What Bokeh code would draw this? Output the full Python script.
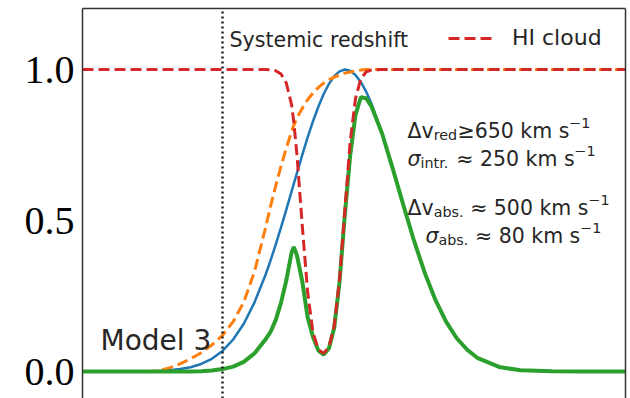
from bokeh.plotting import figure
from bokeh.models import Range1d, FixedTicker, LinearAxis, PrintfTickFormatter
from bokeh.embed import file_html
from bokeh.resources import INLINE
from bokeh.core.properties import value

# ---------------- data ----------------
velocity = [-658, -550, -450, -350, -300, -250, -200, -150, -100, -50,
            0, 50, 100, 150, 200, 225, 250, 275, 300, 325, 335,
            350, 375, 400, 425, 450, 475, 500, 525, 550, 575,
            600, 625, 650, 675, 700, 750, 800, 850, 900, 950,
            1000, 1050, 1100, 1150, 1200, 1300, 1400, 1550, 1700, 1894]

intrinsic = [0.0, 0.0, 0.0, 0.001, 0.002, 0.004, 0.008, 0.014, 0.025, 0.042,
             0.068, 0.106, 0.158, 0.228, 0.316, 0.366, 0.420, 0.477, 0.536, 0.597, 0.621,
             0.658, 0.717, 0.775, 0.828, 0.876, 0.918, 0.952, 0.978, 0.994, 1.000,
             0.996, 0.982, 0.959, 0.927, 0.887, 0.788, 0.672, 0.551, 0.433, 0.328,
             0.238, 0.166, 0.111, 0.072, 0.044, 0.015, 0.004, 0.001, 0.0, 0.0]

damped = [0.0, 0.0, 0.0, 0.0, 0.003, 0.012, 0.025, 0.042, 0.062, 0.088,
          0.120, 0.165, 0.230, 0.330, 0.470, 0.545, 0.615, 0.680, 0.740, 0.795, 0.815,
          0.840, 0.872, 0.900, 0.922, 0.940, 0.955, 0.966, 0.975, 0.982, 0.988,
          0.992, 0.995, 0.998, 1.0, 1.0, 1.0, 1.0, 1.0, 1.0, 1.0,
          1.0, 1.0, 1.0, 1.0, 1.0, 1.0, 1.0, 1.0, 1.0, 1.0]

hi_cloud = [1.0, 1.0, 1.0, 1.0, 1.0, 1.0, 1.0, 1.0, 1.0, 1.0,
            1.0, 1.0, 1.0, 1.0, 1.0, 0.999, 0.996, 0.985, 0.955, 0.882, 0.826,
            0.716, 0.482, 0.264, 0.130, 0.073, 0.060, 0.081, 0.151, 0.304, 0.533,
            0.761, 0.904, 0.969, 0.992, 0.998, 1.0, 1.0, 1.0, 1.0, 1.0,
            1.0, 1.0, 1.0, 1.0, 1.0, 1.0, 1.0, 1.0, 1.0, 1.0]

observed = [0.0, 0.0, 0.0, 0.0, 0.0, 0.0, 0.0, 0.0, 0.001, 0.003,
            0.008, 0.016, 0.032, 0.060, 0.104, 0.130, 0.170, 0.228, 0.302, 0.395, 0.412,
            0.384, 0.298, 0.180, 0.115, 0.070, 0.056, 0.076, 0.145, 0.296, 0.520,
            0.715, 0.850, 0.908, 0.905, 0.878, 0.788, 0.672, 0.551, 0.433, 0.328,
            0.238, 0.166, 0.111, 0.072, 0.044, 0.015, 0.004, 0.001, 0.0, 0.0]

systemic_velocity = 0
y_ticks = [0.0, 0.5, 1.0]

# ---------------- layout ----------------
X0, X1 = -658, 1894
Y0, Y1 = -0.0894, 1.202
FL, FR, FT, FB = 82, 625, 8, 398   # frame edges in page pixels


def sx(px):
    return X0 + (px - FL) * (X1 - X0) / (FR - FL)


def sy(py):
    return Y1 - (py - FT) * (Y1 - Y0) / (FB - FT)


p = figure(width=630, height=398, output_backend="svg", toolbar_location=None,
           x_range=Range1d(X0, X1), y_range=Range1d(Y0, Y1),
           x_axis_location=None,
           min_border_left=FL, min_border_right=630 - FR, min_border_top=FT,
           min_border_bottom=0)
p.outline_line_color = None
p.grid.visible = False
p.background_fill_color = "white"
p.border_fill_color = "white"

FRAME = "#333333"
ax = p.yaxis[0]
ax.ticker = FixedTicker(ticks=y_ticks)
ax.formatter = PrintfTickFormatter(format="%.1f")
ax.major_label_text_font = "Liberation Serif"
ax.major_label_text_font_size = "40px"
ax.major_label_text_color = "black"
ax.major_label_standoff = 8
ax.major_tick_out = 0
ax.major_tick_in = 0
ax.minor_tick_out = 0
ax.minor_tick_in = 0
ax.axis_line_color = FRAME
ax.axis_line_width = 1.5

for loc in ("above", "right"):
    a = LinearAxis(ticker=FixedTicker(ticks=[]), major_tick_out=0, major_tick_in=0,
                   minor_tick_out=0, minor_tick_in=0, major_label_standoff=0,
                   major_label_text_font_size="0px",
                   axis_line_color=FRAME, axis_line_width=1.5)
    p.add_layout(a, loc)

p.line(velocity, intrinsic, line_color="#1f77b4", line_width=2.5)
p.line(velocity, damped, line_color="#ff7f0e", line_width=3, line_dash="11 5")
p.line(velocity, observed, line_color="#2ca02c", line_width=4)
p.line(velocity, hi_cloud, line_color="#d62728", line_width=3, line_dash="11 5",
       legend_label="HI cloud")

# systemic redshift marker: vertical dotted line spanning the full y range
p.line([systemic_velocity, systemic_velocity], [Y0, Y1], line_color="#222222",
       line_width=2.5, line_dash="2 3")

lg = p.legend[0]
lg.location = (366, 348)
lg.padding = 0
lg.margin = 0
lg.border_line_color = None
lg.background_fill_alpha = 0
lg.glyph_width = 45
lg.label_standoff = 19
lg.label_text_font = "DejaVu Sans"
lg.label_text_font_size = "22px"
lg.label_text_color = "#262626"

TXT = "#262626"
FONT = "DejaVu Sans"


def put(px, py, s, size, italic=False, align="left"):
    p.text(x=[sx(px)], y=[sy(py)], text=[s], text_font=value(FONT),
           text_font_size=f"{size}px", text_color=TXT, text_align=align,
           text_baseline="alphabetic",
           text_font_style="italic" if italic else "normal")


put(229, 39, "Systemic redshift", 20.6)
put(100, 340, "Model 3", 28)

# advance widths (em) of DejaVu Sans
W = {"Δ": 0.684, "v": 0.592, "r": 0.411, "e": 0.615, "d": 0.635, "≥": 0.838,
     " ": 0.318, "k": 0.579, "m": 0.974, "s": 0.521, "−": 0.838, "σ": 0.634,
     "i": 0.278, "n": 0.634, "t": 0.392, ".": 0.318, "≈": 0.838, "a": 0.613,
     "b": 0.635}
F = 20.5


def row(px, py, parts):
    x = px
    for s, kind in parts:
        size = F * 0.7 if kind in ("sub", "sup") else F
        dy = 4 if kind == "sub" else (-8 if kind == "sup" else 0)
        lead = len(s) - len(s.lstrip(" "))
        x += lead * W[" "] * size
        s = s.lstrip(" ")
        put(x, py + dy, s, round(size, 1), italic=(kind == "it"))
        x += sum(W.get(c, 0.636) for c in s) * size


row(407, 130, [("Δv", "n"), ("red", "sub"), ("≥650 km s", "n"), ("−1", "sup")])
row(407, 158, [("σ", "it"), ("intr.", "sub"), (" ≈ 250 km s", "n"), ("−1", "sup")])
row(407, 207, [("Δv", "n"), ("abs.", "sub"), (" ≈ 500 km s", "n"), ("−1", "sup")])
row(425, 235, [("σ", "it"), ("abs.", "sub"), (" ≈ 80 km s", "n"), ("−1", "sup")])

open("out.html", "w").write(file_html(p, INLINE))
